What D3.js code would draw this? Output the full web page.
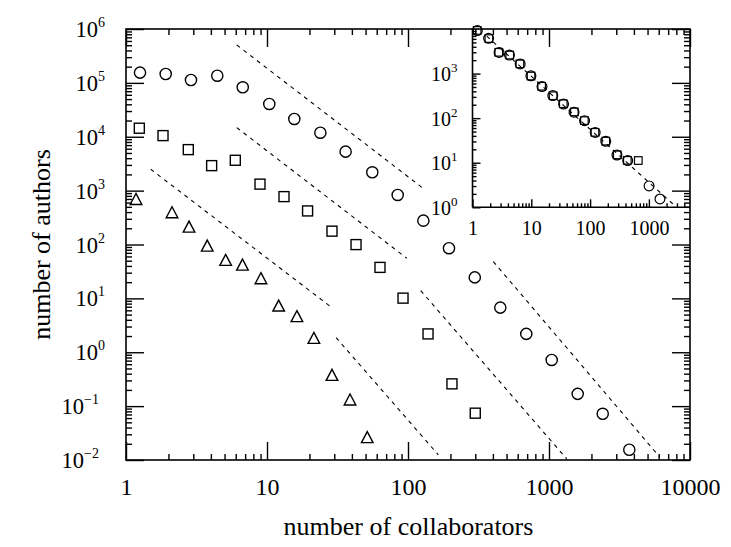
<!DOCTYPE html>
<html>
<head>
<meta charset="utf-8">
<script src="https://cdn.jsdelivr.net/npm/d3@7"></script>
<style>
  html, body { margin: 0; padding: 0; background: #fff; }
  svg { display: block; }
  text { font-family: "Liberation Serif", "Times New Roman", serif; fill: #000; }
</style>
</head>
<body>
<svg id="chart" width="731" height="547"></svg>
<script>
// ---------------- data ----------------
const circleX = [1.257, 1.912, 2.89, 4.44, 6.73, 10.38, 15.62, 23.9, 36.1, 55.8, 84.5, 128.5, 195.3, 297.6, 451.5, 690, 1045, 1598, 2404, 3711];
const circleY = [1.55e5, 1.46e5, 1.13e5, 1.36e5, 8.28e4, 4.06e4, 2.14e4, 1.19e4, 5.29e3, 2.19e3, 832, 277, 85.3, 24.5, 6.74, 2.19, 0.72, 0.169, 0.072, 0.0155];

const squareX = [1.243, 1.83, 2.766, 4.05, 5.96, 8.92, 13.2, 19.4, 28.9, 42.8, 63.3, 92.2, 138.7, 205, 300];
const squareY = [1.44e4, 1.05e4, 5.77e3, 2.91e3, 3.66e3, 1.32e3, 774, 420, 177, 99.6, 37.6, 10.1, 2.19, 0.259, 0.074];

const triangleX = [1.177, 2.12, 2.80, 3.77, 5.09, 6.70, 9.06, 12.1, 16.3, 21.5, 28.9, 38.8, 51.4];
const triangleY = [672, 381, 206, 91.5, 49.6, 40.6, 22.7, 7.05, 4.48, 1.77, 0.365, 0.127, 0.0255];

// power-law guide lines: [x1, y1, x2, y2] in data units
const guideLines = [
  [6.10, 5.05e5, 130.5, 1062],
  [402.7, 48.2, 6057, 0.0116],
  [6.10, 1.48e4, 97.9, 55.7],
  [123, 13.96, 1336, 0.0105],
  [1.497, 2494, 28.8, 6.75],
  [30.9, 1.87, 164, 0.0125]
];

// inset (collapsed data)
const insetCircleX = [1.21, 1.875, 2.83, 4.25, 6.47, 9.85, 15.2, 23.2, 35.4, 53.3, 80.5, 122, 184.5, 286, 436, 1007, 1541];
const insetCircleY = [9200, 6180, 2985, 2595, 1644, 891, 512, 321, 207, 136, 87.9, 47.9, 30.3, 14.9, 11.2, 3.02, 1.54];
const insetSquareX = [1.2, 1.9, 2.8, 4.3, 6.4, 9.9, 15, 23.5, 35, 54, 80, 121, 185, 290, 430, 660];
const insetSquareY = [9300, 6100, 3000, 2600, 1650, 880, 520, 318, 210, 138, 88, 48, 30.5, 15, 11.3, 11.2];
const insetLine = [1.75, 6900, 2670, 1.13];

const xTickLabels = ["1", "10", "100", "1000", "10000"];
const yTickExponents = ["\u22122", "\u22121", "0", "1", "2", "3", "4", "5", "6"];
const insetXTickLabels = ["1", "10", "100", "1000"];
const insetYTickExponents = ["0", "1", "2", "3"];
const xTitle = "number of collaborators";
const yTitle = "number of authors";

// ---------------- layout ----------------
const svg = d3.select("#chart");
const L = 126, T = 29, R = 690, B = 460;
const x = d3.scaleLog().domain([1, 1e4]).range([L, R]);
const y = d3.scaleLog().domain([1e-2, 1e6]).range([B, T]);

const IL = 472.5, IT = 29, IR = 690, IB = 207.3;
const xi = d3.scaleLog().domain([1, 5000]).range([IL, IR]);
const yi = d3.scaleLog().domain([1, 1e4]).range([IB, IT]);

function minors(lo, hi) {
  const out = [];
  for (let e = lo; e < hi; e++) for (let k = 2; k <= 9; k++) out.push(k * Math.pow(10, e));
  return out;
}
function majors(lo, hi) {
  const out = [];
  for (let e = lo; e <= hi; e++) out.push(Math.pow(10, e));
  return out;
}

// ---------------- main data ----------------
const main = svg.append("g");
const dash = "4,4.5";

main.selectAll("line.guide").data(guideLines).enter().append("line")
  .attr("x1", d => x(d[0])).attr("y1", d => y(d[1]))
  .attr("x2", d => x(d[2])).attr("y2", d => y(d[3]))
  .attr("stroke", "#000").attr("stroke-width", 1.1).attr("stroke-dasharray", dash);

const mk = { stroke: "#000", sw: 1.4 };
main.selectAll("circle.c").data(circleX.map((v, i) => [v, circleY[i]])).enter().append("circle")
  .attr("cx", d => x(d[0])).attr("cy", d => y(d[1])).attr("r", 5.6)
  .attr("fill", "none").attr("stroke", mk.stroke).attr("stroke-width", mk.sw);

main.selectAll("rect.s").data(squareX.map((v, i) => [v, squareY[i]])).enter().append("rect")
  .attr("x", d => x(d[0]) - 5).attr("y", d => y(d[1]) - 5).attr("width", 10).attr("height", 10)
  .attr("fill", "none").attr("stroke", mk.stroke).attr("stroke-width", mk.sw);

main.selectAll("path.t").data(triangleX.map((v, i) => [v, triangleY[i]])).enter().append("path")
  .attr("transform", d => `translate(${x(d[0])},${y(d[1])})`)
  .attr("d", "M0,-6.5L5.8,4.5L-5.8,4.5Z")
  .attr("fill", "none").attr("stroke", mk.stroke).attr("stroke-width", mk.sw);

// ---------------- inset background ----------------
svg.append("rect").attr("x", IL).attr("y", IT).attr("width", IR - IL).attr("height", IB - IT)
  .attr("fill", "#fff");

// ---------------- main axes ----------------
function styleAxis(g) {
  g.select(".domain").remove();
  g.selectAll(".tick line").attr("stroke", "#000").attr("stroke-width", 1.4);
}
const axG = svg.append("g");
// bottom
axG.append("g").attr("transform", `translate(0,${B})`)
  .call(d3.axisBottom(x).tickValues(minors(0, 4)).tickSize(-6).tickSizeOuter(0).tickFormat(""))
  .call(styleAxis);
const bx = axG.append("g").attr("transform", `translate(0,${B})`)
  .call(d3.axisBottom(x).tickValues(majors(0, 4)).tickSize(-18).tickSizeOuter(0)
    .tickFormat((d, i) => xTickLabels[i]).tickPadding(0))
  .call(styleAxis);
bx.selectAll(".tick text").attr("y", 35).attr("dy", 0).attr("font-size", 24)
  .attr("font-family", "Liberation Serif, serif");
// top
axG.append("g").attr("transform", `translate(0,${T})`)
  .call(d3.axisTop(x).tickValues(minors(0, 4)).tickSize(-6).tickSizeOuter(0).tickFormat(""))
  .call(styleAxis);
axG.append("g").attr("transform", `translate(0,${T})`)
  .call(d3.axisTop(x).tickValues(majors(0, 4)).tickSize(-18).tickSizeOuter(0).tickFormat(""))
  .call(styleAxis);
// left
axG.append("g").attr("transform", `translate(${L},0)`)
  .call(d3.axisLeft(y).tickValues(minors(-2, 6)).tickSize(-6).tickSizeOuter(0).tickFormat(""))
  .call(styleAxis);
const ly = axG.append("g").attr("transform", `translate(${L},0)`)
  .call(d3.axisLeft(y).tickValues(majors(-2, 6)).tickSize(-18).tickSizeOuter(0).tickFormat(""))
  .call(styleAxis);
ly.selectAll(".tick text").each(function (d, i) {
  const t = d3.select(this);
  const neg = yTickExponents[i].startsWith("\u2212");
  t.text(null).attr("x", neg ? -27 : -21).attr("dy", 0).attr("y", 7.5)
    .attr("text-anchor", "end").attr("font-size", 22.5).attr("font-family", "Liberation Serif, serif");
  t.append("tspan").text("10");
  t.append("tspan").attr("dy", -10).attr("font-size", 14).text(yTickExponents[i]);
});
// right
axG.append("g").attr("transform", `translate(${R},0)`)
  .call(d3.axisRight(y).tickValues(minors(-2, 6)).tickSize(-6).tickSizeOuter(0).tickFormat(""))
  .call(styleAxis);
axG.append("g").attr("transform", `translate(${R},0)`)
  .call(d3.axisRight(y).tickValues(majors(-2, 6)).tickSize(-18).tickSizeOuter(0).tickFormat(""))
  .call(styleAxis);

axG.append("rect").attr("x", L).attr("y", T).attr("width", R - L).attr("height", B - T)
  .attr("fill", "none").attr("stroke", "#000").attr("stroke-width", 1.6);

// titles
svg.append("text").attr("x", (L + R) / 2 + 0.5).attr("y", 535).attr("text-anchor", "middle")
  .attr("font-size", 26).text(xTitle);
svg.append("text").attr("transform", `translate(50,${(T + B) / 2}) rotate(-90)`)
  .attr("text-anchor", "middle").attr("font-size", 26).text(yTitle);

// ---------------- inset ----------------
const ins = svg.append("g");
ins.append("line")
  .attr("x1", xi(insetLine[0])).attr("y1", yi(insetLine[1]))
  .attr("x2", xi(insetLine[2])).attr("y2", yi(insetLine[3]))
  .attr("stroke", "#000").attr("stroke-width", 1.1).attr("stroke-dasharray", dash);

ins.selectAll("rect.is").data(insetSquareX.map((v, i) => [v, insetSquareY[i]])).enter().append("rect")
  .attr("x", d => xi(d[0]) - 3.8).attr("y", d => yi(d[1]) - 3.8).attr("width", 7.6).attr("height", 7.6)
  .attr("fill", "none").attr("stroke", "#000").attr("stroke-width", 1.2);
ins.selectAll("circle.ic").data(insetCircleX.map((v, i) => [v, insetCircleY[i]])).enter().append("circle")
  .attr("cx", d => xi(d[0])).attr("cy", d => yi(d[1])).attr("r", 4.9)
  .attr("fill", "none").attr("stroke", "#000").attr("stroke-width", 1.2);

// inset bottom axis
ins.append("g").attr("transform", `translate(0,${IB})`)
  .call(d3.axisBottom(xi).tickValues(minors(0, 3).concat([2000, 3000, 4000])).tickSize(-4).tickSizeOuter(0).tickFormat(""))
  .call(styleAxis);
const ibx = ins.append("g").attr("transform", `translate(0,${IB})`)
  .call(d3.axisBottom(xi).tickValues(majors(0, 3)).tickSize(-8).tickSizeOuter(0)
    .tickFormat((d, i) => insetXTickLabels[i]).tickPadding(0))
  .call(styleAxis);
ibx.selectAll(".tick text").attr("y", 28).attr("dy", 0).attr("font-size", 20)
  .attr("font-family", "Liberation Serif, serif");
// inset left axis
ins.append("g").attr("transform", `translate(${IL},0)`)
  .call(d3.axisLeft(yi).tickValues(minors(0, 4)).tickSize(-4).tickSizeOuter(0).tickFormat(""))
  .call(styleAxis);
const ily = ins.append("g").attr("transform", `translate(${IL},0)`)
  .call(d3.axisLeft(yi).tickValues(majors(0, 3)).tickSize(-8).tickSizeOuter(0).tickFormat(""))
  .call(styleAxis);
ily.selectAll(".tick text").each(function (d, i) {
  const t = d3.select(this);
  t.text(null).attr("x", -15).attr("dy", 0).attr("y", 7)
    .attr("text-anchor", "end").attr("font-size", 20).attr("font-family", "Liberation Serif, serif");
  t.append("tspan").text("10");
  t.append("tspan").attr("dy", -9).attr("font-size", 13).text(insetYTickExponents[i]);
});
ins.append("line").attr("x1", IL).attr("x2", IL).attr("y1", IT).attr("y2", IB)
  .attr("stroke", "#000").attr("stroke-width", 1.6);
ins.append("line").attr("x1", IL).attr("x2", IR).attr("y1", IB).attr("y2", IB)
  .attr("stroke", "#000").attr("stroke-width", 1.6);
</script>
</body>
</html>
